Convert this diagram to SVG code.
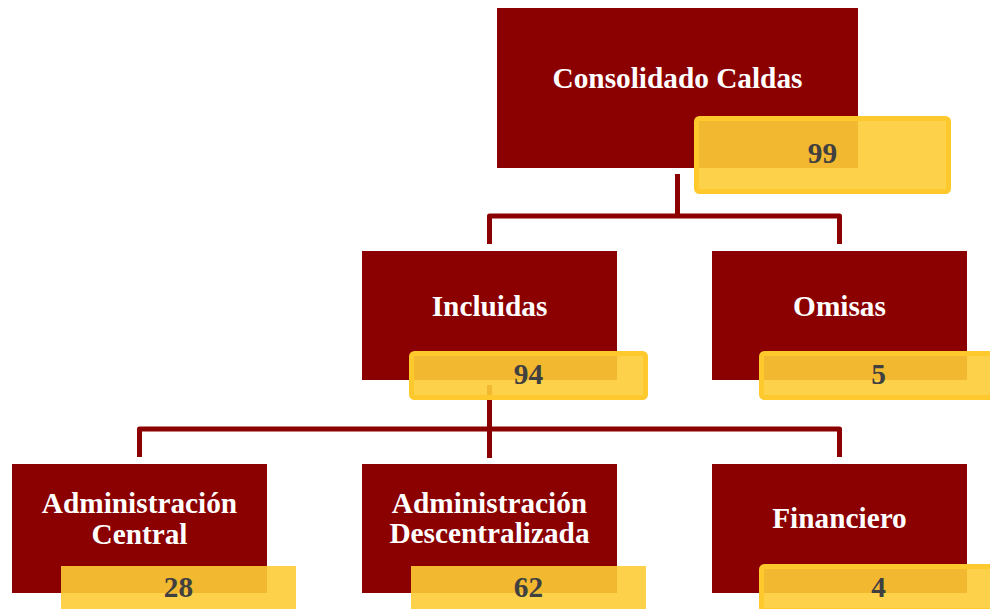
<svg xmlns="http://www.w3.org/2000/svg" width="990" height="609" viewBox="0 0 990 609">
<style>
.box{fill:#8B0000;}
.val{fill:#FDCC35;fill-opacity:0.9;stroke:#FEC92C;stroke-width:5;}
.valn{fill:#FDCC35;fill-opacity:0.9;}
.lbl{font-family:"Liberation Serif","Times New Roman",serif;font-weight:bold;font-size:29.3px;fill:#FFFFFF;text-anchor:middle;}
.num{font-family:"Liberation Serif","Times New Roman",serif;font-weight:bold;font-size:29.3px;fill:#404040;text-anchor:middle;}
.conn{fill:none;stroke:#8B0000;stroke-width:5;stroke-linejoin:round;}
</style>
<rect width="990" height="609" fill="#FFFFFF"/>
<g id="connectors">
<path class="conn" d="M677.5,174 V216"/>
<path class="conn" d="M489.5,244 V216 H839.5 V244"/>
<path class="conn" d="M489.5,385 V458"/>
<path class="conn" d="M139.5,457 V429 H839.5 V457"/>
</g>
<g id="consolidado">
<rect class="box" x="497" y="8" width="361" height="160"/>
<text class="lbl" x="677.5" y="88">Consolidado Caldas</text>
<rect class="val" x="696.5" y="118.5" width="252" height="73" rx="3"/>
<text class="num" x="822.5" y="163">99</text>
</g>
<g id="incluidas">
<rect class="box" x="362" y="251" width="255" height="129"/>
<text class="lbl" x="489.5" y="316">Incluidas</text>
<rect class="val" x="411.5" y="353.5" width="234" height="44" rx="3"/>
<text class="num" x="528.5" y="384">94</text>
</g>
<g id="omisas">
<rect class="box" x="712" y="251" width="255" height="129"/>
<text class="lbl" x="839.5" y="316">Omisas</text>
<rect class="val" x="761.5" y="353.5" width="234" height="44" rx="3"/>
<text class="num" x="878.5" y="384">5</text>
</g>
<g id="admin-central">
<rect class="box" x="12" y="464" width="255" height="129"/>
<text class="lbl" x="139.5" y="513">Administración</text>
<text class="lbl" x="139.5" y="544">Central</text>
<rect class="valn" x="61" y="566" width="235" height="48"/>
<text class="num" x="178.5" y="597">28</text>
</g>
<g id="admin-descentralizada">
<rect class="box" x="362" y="464" width="255" height="129"/>
<text class="lbl" x="489.5" y="513">Administración</text>
<text class="lbl" x="489.5" y="543">Descentralizada</text>
<rect class="valn" x="411" y="566" width="235" height="48"/>
<text class="num" x="528.5" y="597">62</text>
</g>
<g id="financiero">
<rect class="box" x="712" y="464" width="255" height="129"/>
<text class="lbl" x="839.5" y="528">Financiero</text>
<rect class="val" x="761.5" y="566.5" width="234" height="44" rx="3"/>
<text class="num" x="878.5" y="597">4</text>
</g>
</svg>
